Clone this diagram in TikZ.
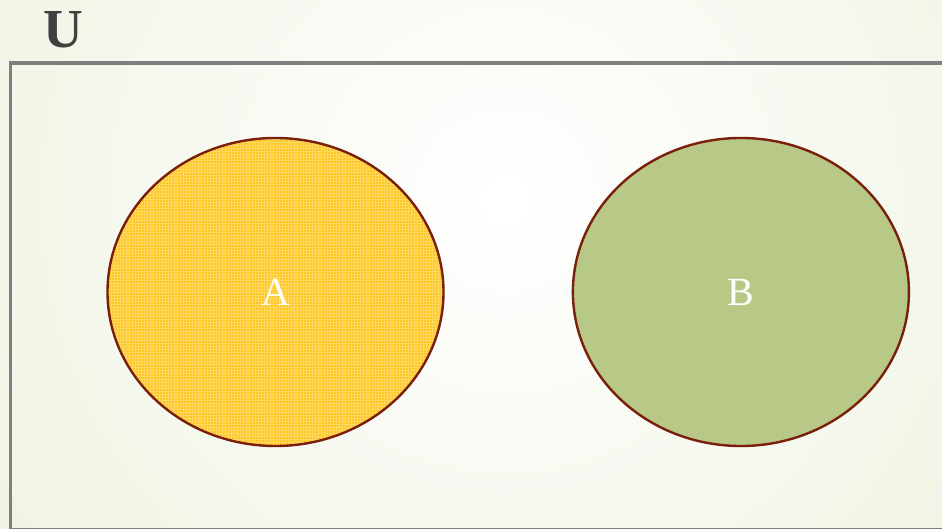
\documentclass[tikz,border=0pt]{standalone}
\usepackage{fontspec}
\setmainfont{Liberation Serif}
\usetikzlibrary{positioning, shapes.geometric, patterns}
\definecolor{bgouter}{HTML}{E9F0D9}
\definecolor{framegray}{HTML}{7F7F7F}
\definecolor{rimred}{HTML}{7A1F0B}
\definecolor{fillA}{HTML}{FFC726}
\definecolor{gridA}{HTML}{FFD862}
\definecolor{fillB}{HTML}{B8C987}
\definecolor{ulabel}{HTML}{404040}
\tikzset{
  set/.style={ellipse, minimum width=336pt, minimum height=308pt, inner sep=0pt, outer sep=1.2pt, text=white, font=\fontsize{40}{40}\selectfont},
  rim/.style={draw=rimred, line width=2.4pt},
  setA/.style={set, fill=fillA, postaction={pattern=grid, pattern color=gridA}, postaction={rim}},
  setB/.style={set, fill=fillB, rim},
  universe/.style={draw=framegray, line width=3.5pt},
  title/.style={text=ulabel, font=\fontsize{55}{55}\selectfont\bfseries},
  every node/.style={font=\small}
}
\begin{document}
\begin{tikzpicture}[x=1pt, y=-1pt]
    \useasboundingbox (0,0) rectangle (942,529);
    % background
    \begin{scope}
      \clip (0,0) rectangle (942,529);
      \fill[bgouter] (0,0) rectangle (942,529);
      \shade[inner color=white, outer color=bgouter] (505,200) circle (820pt);
      \draw[universe] (10.5,63) rectangle (970,529.5);
    \end{scope}

    \node[title] (uset) at (63,30) {U};
    \node[setA] (a) at (275.5,292) {A};
    \node[setB, right=127pt of a] (b) {B};
\end{tikzpicture}
\end{document}
